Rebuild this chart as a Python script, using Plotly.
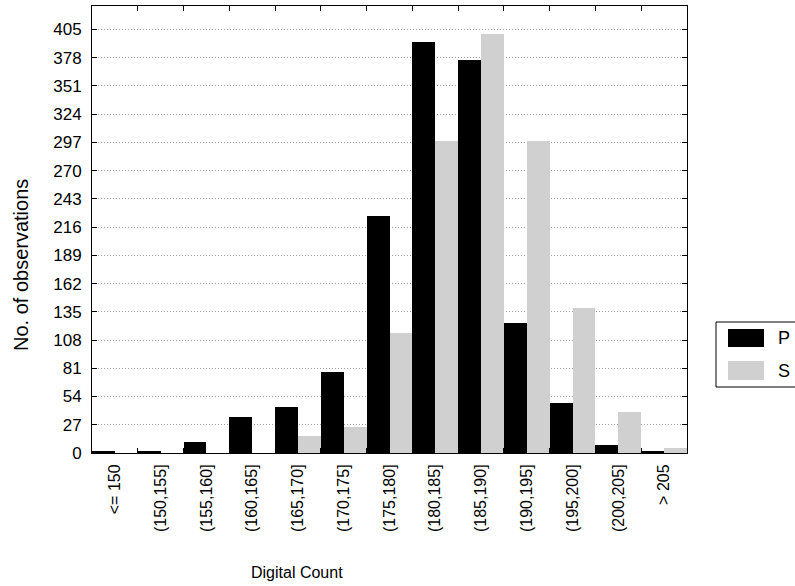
import plotly.graph_objects as go

categories = ["<= 150", "(150,155]", "(155,160]", "(160,165]", "(165,170]", "(170,175]",
              "(175,180]", "(180,185]", "(185,190]", "(190,195]", "(195,200]", "(200,205]", "> 205"]
p_values = [2, 2, 11, 34, 44, 77, 227, 393, 376, 124, 48, 8, 2]
s_values = [0, 0, 0, 0, 16, 25, 115, 298, 401, 298, 139, 39, 5]
y_ticks = list(range(0, 406, 27))

W, H = 795, 586
L, R, T, B = 92, 108, 6, 133
pw, ph = W - L - R, H - T - B

def px(x):
    return (x - L) / pw

def py(y):
    return (H - B - y) / ph

FONT = "Liberation Sans, Arial, sans-serif"

fig = go.Figure()
fig.add_trace(go.Bar(x=categories, y=p_values, name="P", marker=dict(color="#000000", line=dict(width=0))))
fig.add_trace(go.Bar(x=categories, y=s_values, name="S", marker=dict(color="#d0d0d0", line=dict(width=0))))

fig.update_layout(
    width=W, height=H,
    margin=dict(l=L, r=R, t=T, b=B, autoexpand=False),
    paper_bgcolor="white", plot_bgcolor="white",
    barmode="group", bargap=0, bargroupgap=0,
    showlegend=False,
    font=dict(family=FONT, size=16, color="black"),
)
fig.update_xaxes(
    type="category", tickangle=-90, ticks="inside", tickson="boundaries", ticklen=5,
    tickcolor="black", showline=True, linecolor="black", linewidth=1, mirror="ticks",
    showgrid=False, tickfont=dict(size=16, family=FONT), ticklabelstandoff=4,
)
fig.update_yaxes(
    range=[0, 427.5], tickvals=y_ticks, ticks="inside", ticklen=5, tickcolor="black",
    showline=True, linecolor="black", linewidth=1, mirror="ticks",
    showgrid=True, gridcolor="#a0a0a0", griddash="1px,2px", gridwidth=1,
    zeroline=False, tickfont=dict(size=17, family=FONT), ticklabelstandoff=6,
)

# axis titles
fig.add_annotation(text="Digital Count", xref="paper", yref="paper", x=px(297), y=py(572),
                   showarrow=False, font=dict(size=16, family=FONT), xanchor="center", yanchor="middle")
fig.add_annotation(text="No. of observations", xref="paper", yref="paper", x=px(21), y=py(265),
                   showarrow=False, textangle=-90, font=dict(size=20, family=FONT),
                   xanchor="center", yanchor="middle")

# legend box
fig.add_shape(type="rect", xref="paper", yref="paper", x0=px(716), x1=px(805), y0=py(387), y1=py(322),
              line=dict(color="black", width=1), fillcolor="white")
fig.add_shape(type="rect", xref="paper", yref="paper", x0=px(728), x1=px(764), y0=py(347), y1=py(329),
              line=dict(width=0), fillcolor="#000000")
fig.add_shape(type="rect", xref="paper", yref="paper", x0=px(728), x1=px(764), y0=py(380), y1=py(361),
              line=dict(width=0), fillcolor="#d0d0d0")
fig.add_annotation(text="P", xref="paper", yref="paper", x=px(776), y=py(338), showarrow=False,
                   xanchor="left", yanchor="middle", font=dict(size=18, family=FONT))
fig.add_annotation(text="S", xref="paper", yref="paper", x=px(776), y=py(371), showarrow=False,
                   xanchor="left", yanchor="middle", font=dict(size=18, family=FONT))

fig.write_html("out.html", config={"displayModeBar": False},
               post_script="document.body.style.margin='0px';document.body.style.overflow='hidden';")
